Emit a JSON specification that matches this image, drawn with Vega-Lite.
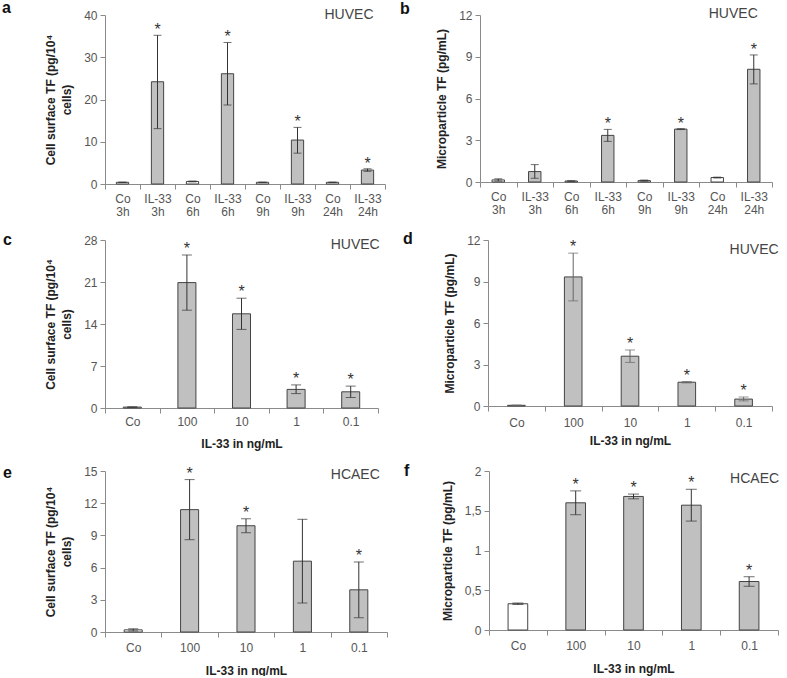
{
  "$schema": "https://vega.github.io/schema/vega-lite/v6.json",
  "background": "white",
  "padding": {"left": 2, "top": 0, "right": 0, "bottom": 0},
  "config": {
    "view": {"stroke": null},
    "font": "Liberation Sans",
    "axis": {
      "grid": false,
      "domainColor": "#8a8a8a",
      "tickColor": "#8a8a8a",
      "labelColor": "#555555",
      "labelFont": "Liberation Sans",
      "labelFontSize": 12,
      "titleFont": "Liberation Sans",
      "titleFontSize": 12,
      "titleFontWeight": "bold",
      "titleColor": "#222222",
      "tickSize": 5
    },
    "axisX": {"labelAngle": 0, "tickBand": "extent", "labelPadding": 4, "titlePadding": 8, "labelLineHeight": 13},
    "axisY": {"labelPadding": 3, "titlePadding": 10, "tickCount": 20, "format": "~g", "titleLineHeight": 16},
    "title": {"font": "Liberation Sans", "fontSize": 16, "fontWeight": "bold", "color": "#111111", "anchor": "start", "frame": "group"},
    "bar": {"stroke": "#444444", "strokeWidth": 1},
    "rule": {"color": "#333333", "strokeWidth": 1},
    "tick": {"color": "#333333", "thickness": 1},
    "text": {"font": "Liberation Sans"}
  },
  "datasets": {
    "a": [
      {"g": "Co 3h", "m": 0.4, "lo": 0.35, "hi": 0.45, "sig": false, "ctrl": true},
      {"g": "IL-33 3h", "m": 24.2, "lo": 13.1, "hi": 35.2, "sig": true, "ctrl": false},
      {"g": "Co 6h", "m": 0.6, "lo": 0.5, "hi": 0.7, "sig": false, "ctrl": true},
      {"g": "IL-33 6h", "m": 26.1, "lo": 18.7, "hi": 33.5, "sig": true, "ctrl": false},
      {"g": "Co 9h", "m": 0.4, "lo": 0.35, "hi": 0.45, "sig": false, "ctrl": true},
      {"g": "IL-33 9h", "m": 10.4, "lo": 7.3, "hi": 13.4, "sig": true, "ctrl": false},
      {"g": "Co 24h", "m": 0.4, "lo": 0.35, "hi": 0.45, "sig": false, "ctrl": true},
      {"g": "IL-33 24h", "m": 3.3, "lo": 3.0, "hi": 3.6, "sig": true, "ctrl": false}
    ],
    "b": [
      {"g": "Co 3h", "m": 0.15, "lo": 0.07, "hi": 0.23, "sig": false, "ctrl": true},
      {"g": "IL-33 3h", "m": 0.75, "lo": 0.27, "hi": 1.25, "sig": false, "ctrl": false},
      {"g": "Co 6h", "m": 0.07, "lo": 0.05, "hi": 0.09, "sig": false, "ctrl": true},
      {"g": "IL-33 6h", "m": 3.35, "lo": 2.92, "hi": 3.78, "sig": true, "ctrl": false},
      {"g": "Co 9h", "m": 0.1, "lo": 0.06, "hi": 0.14, "sig": false, "ctrl": true},
      {"g": "IL-33 9h", "m": 3.8, "lo": 3.77, "hi": 3.83, "sig": true, "ctrl": false},
      {"g": "Co 24h", "m": 0.32, "lo": 0.29, "hi": 0.35, "sig": false, "ctrl": true},
      {"g": "IL-33 24h", "m": 8.1, "lo": 7.05, "hi": 9.13, "sig": true, "ctrl": false}
    ],
    "c": [
      {"g": "Co", "m": 0.15, "lo": 0.1, "hi": 0.2, "sig": false, "ctrl": true},
      {"g": "100", "m": 20.9, "lo": 16.3, "hi": 25.5, "sig": true, "ctrl": false},
      {"g": "10", "m": 15.7, "lo": 13.1, "hi": 18.3, "sig": true, "ctrl": false},
      {"g": "1", "m": 3.1, "lo": 2.4, "hi": 3.85, "sig": true, "ctrl": false},
      {"g": "0.1", "m": 2.7, "lo": 1.75, "hi": 3.65, "sig": true, "ctrl": false}
    ],
    "d": [
      {"g": "Co", "m": 0.05, "lo": 0.03, "hi": 0.07, "sig": false, "ctrl": true},
      {"g": "100", "m": 9.33, "lo": 7.6, "hi": 11.05, "sig": true, "ctrl": false},
      {"g": "10", "m": 3.6, "lo": 3.15, "hi": 4.05, "sig": true, "ctrl": false},
      {"g": "1", "m": 1.72, "lo": 1.67, "hi": 1.77, "sig": true, "ctrl": false},
      {"g": "0.1", "m": 0.5, "lo": 0.37, "hi": 0.65, "sig": true, "ctrl": false}
    ],
    "e": [
      {"g": "Co", "m": 0.2, "lo": 0.1, "hi": 0.3, "sig": false, "ctrl": true},
      {"g": "100", "m": 11.4, "lo": 8.6, "hi": 14.2, "sig": true, "ctrl": false},
      {"g": "10", "m": 9.9, "lo": 9.25, "hi": 10.55, "sig": true, "ctrl": false},
      {"g": "1", "m": 6.6, "lo": 2.7, "hi": 10.5, "sig": false, "ctrl": false},
      {"g": "0.1", "m": 3.93, "lo": 1.33, "hi": 6.53, "sig": true, "ctrl": false}
    ],
    "f": [
      {"g": "Co", "m": 0.33, "lo": 0.32, "hi": 0.34, "sig": false, "ctrl": true},
      {"g": "100", "m": 1.6, "lo": 1.45, "hi": 1.75, "sig": true, "ctrl": false},
      {"g": "10", "m": 1.68, "lo": 1.65, "hi": 1.71, "sig": true, "ctrl": false},
      {"g": "1", "m": 1.57, "lo": 1.37, "hi": 1.77, "sig": true, "ctrl": false},
      {"g": "0.1", "m": 0.61, "lo": 0.55, "hi": 0.67, "sig": true, "ctrl": false}
    ]
  },
  "spacing": 14,
  "vconcat": [
    {
      "spacing": 95,
      "bounds": "flush",
      "hconcat": [
        {
          "width": 280, "height": 169,
          "title": {"text": "a", "dx": -103, "offset": -8},
          "data": {"name": "a"},
          "encoding": {
            "x": {"field": "g", "type": "nominal", "sort": null,
                  "scale": {"paddingInner": 0, "paddingOuter": 0},
                  "axis": {"title": null, "labelExpr": "split(datum.label, ' ')"}}
          },
          "layer": [
            {"mark": {"type": "bar", "width": {"band": 0.35}},
             "encoding": {
               "y": {"field": "m", "type": "quantitative", "scale": {"domain": [0, 40], "nice": false},
                     "axis": {"values": [0, 10, 20, 30, 40], "tickCount": 20, "format": "~g", "title": ["Cell surface TF (pg/10⁴", "cells)"], "titlePadding": 10}},
               "fill": {"condition": {"test": "datum.ctrl", "value": "white"}, "value": "#c0c0c0"}}},
            {"mark": "rule", "encoding": {"y": {"field": "lo", "type": "quantitative"}, "y2": {"field": "hi"}}},
            {"mark": {"type": "tick", "size": 8}, "encoding": {"y": {"field": "hi", "type": "quantitative"}}},
            {"mark": {"type": "tick", "size": 8}, "encoding": {"y": {"field": "lo", "type": "quantitative"}}},
            {"transform": [{"filter": "datum.sig"}],
             "mark": {"type": "text", "text": "*", "fontSize": 16, "color": "#333333", "baseline": "alphabetic", "dy": 0},
             "encoding": {"y": {"field": "hi", "type": "quantitative"}}},
            {"data": {"values": [{"label": "HUVEC"}]},
             "mark": {"type": "text", "align": "right", "baseline": "middle", "fontSize": 14, "color": "#444444", "dx": 6, "dy": 0},
             "encoding": {"x": {"datum": "IL-33 24h"}, "y": {"datum": 40}, "text": {"field": "label"}}}
          ]
        },
        {
          "width": 292, "height": 167,
          "title": {"text": "b", "dx": -80, "offset": -10},
          "data": {"name": "b"},
          "encoding": {
            "x": {"field": "g", "type": "nominal", "sort": null,
                  "scale": {"paddingInner": 0, "paddingOuter": 0},
                  "axis": {"title": null, "labelExpr": "split(datum.label, ' ')"}}
          },
          "layer": [
            {"mark": {"type": "bar", "width": {"band": 0.34}},
             "encoding": {
               "y": {"field": "m", "type": "quantitative", "scale": {"domain": [0, 12], "nice": false},
                     "axis": {"values": [0, 3, 6, 9, 12], "tickCount": 20, "format": "~g", "title": "Microparticle TF (pg/mL)"}},
               "fill": {"condition": {"test": "datum.ctrl", "value": "white"}, "value": "#c0c0c0"}}},
            {"mark": "rule", "encoding": {"y": {"field": "lo", "type": "quantitative"}, "y2": {"field": "hi"}}},
            {"mark": {"type": "tick", "size": 8}, "encoding": {"y": {"field": "hi", "type": "quantitative"}}},
            {"mark": {"type": "tick", "size": 8}, "encoding": {"y": {"field": "lo", "type": "quantitative"}}},
            {"transform": [{"filter": "datum.sig"}],
             "mark": {"type": "text", "text": "*", "fontSize": 16, "color": "#333333", "baseline": "alphabetic", "dy": 0},
             "encoding": {"y": {"field": "hi", "type": "quantitative"}}},
            {"data": {"values": [{"label": "HUVEC"}]},
             "mark": {"type": "text", "align": "right", "baseline": "middle", "fontSize": 14, "color": "#444444", "dx": 4, "dy": -1},
             "encoding": {"x": {"datum": "IL-33 24h"}, "y": {"datum": 12}, "text": {"field": "label"}}}
          ]
        }
      ]
    },
    {
      "spacing": 110,
      "bounds": "flush",
      "hconcat": [
        {
          "width": 273, "height": 168,
          "title": {"text": "c", "dx": -102, "offset": -14},
          "data": {"name": "c"},
          "encoding": {
            "x": {"field": "g", "type": "nominal", "sort": null,
                  "scale": {"paddingInner": 0, "paddingOuter": 0},
                  "axis": {"title": "IL-33 in ng/mL", "labelPadding": 3, "titlePadding": 11}}
          },
          "layer": [
            {"mark": {"type": "bar", "width": {"band": 0.33}},
             "encoding": {
               "y": {"field": "m", "type": "quantitative", "scale": {"domain": [0, 28], "nice": false},
                     "axis": {"values": [0, 7, 14, 21, 28], "tickCount": 20, "format": "~g", "title": ["Cell surface TF (pg/10⁴", "cells)"], "titlePadding": 10}},
               "fill": {"condition": {"test": "datum.ctrl", "value": "white"}, "value": "#c0c0c0"}}},
            {"mark": "rule", "encoding": {"y": {"field": "lo", "type": "quantitative"}, "y2": {"field": "hi"}}},
            {"mark": {"type": "tick", "size": 10}, "encoding": {"y": {"field": "hi", "type": "quantitative"}}},
            {"mark": {"type": "tick", "size": 10}, "encoding": {"y": {"field": "lo", "type": "quantitative"}}},
            {"transform": [{"filter": "datum.sig"}],
             "mark": {"type": "text", "text": "*", "fontSize": 16, "color": "#333333", "baseline": "alphabetic", "dy": -1},
             "encoding": {"y": {"field": "hi", "type": "quantitative"}}},
            {"data": {"values": [{"label": "HUVEC"}]},
             "mark": {"type": "text", "align": "right", "baseline": "middle", "fontSize": 14, "color": "#444444", "dx": 29, "dy": 5},
             "encoding": {"x": {"datum": "0.1"}, "y": {"datum": 28}, "text": {"field": "label"}}}
          ]
        },
        {
          "width": 284, "height": 166,
          "title": {"text": "d", "dx": -85, "offset": -13},
          "data": {"name": "d"},
          "encoding": {
            "x": {"field": "g", "type": "nominal", "sort": null,
                  "scale": {"paddingInner": 0, "paddingOuter": 0},
                  "axis": {"title": "IL-33 in ng/mL", "labelPadding": 6, "titlePadding": 7}}
          },
          "layer": [
            {"mark": {"type": "bar", "width": {"band": 0.31}},
             "encoding": {
               "y": {"field": "m", "type": "quantitative", "scale": {"domain": [0, 12], "nice": false},
                     "axis": {"values": [0, 3, 6, 9, 12], "tickCount": 20, "format": "~g", "title": "Microparticle TF (pg/mL)"}},
               "fill": {"condition": {"test": "datum.ctrl", "value": "white"}, "value": "#c0c0c0"}}},
            {"mark": {"type": "rule", "color": "#666666"}, "encoding": {"y": {"field": "lo", "type": "quantitative"}, "y2": {"field": "hi"}}},
            {"mark": {"type": "tick", "size": 10, "color": "#666666"}, "encoding": {"y": {"field": "hi", "type": "quantitative"}}},
            {"mark": {"type": "tick", "size": 10, "color": "#666666"}, "encoding": {"y": {"field": "lo", "type": "quantitative"}}},
            {"transform": [{"filter": "datum.sig"}],
             "mark": {"type": "text", "text": "*", "fontSize": 16, "color": "#333333", "baseline": "alphabetic", "dy": -1},
             "encoding": {"y": {"field": "hi", "type": "quantitative"}}},
            {"data": {"values": [{"label": "HUVEC"}]},
             "mark": {"type": "text", "align": "right", "baseline": "middle", "fontSize": 14, "color": "#444444", "dx": 35, "dy": 10},
             "encoding": {"x": {"datum": "0.1"}, "y": {"datum": 12}, "text": {"field": "label"}}}
          ]
        }
      ]
    },
    {
      "spacing": 102,
      "bounds": "flush",
      "hconcat": [
        {
          "width": 282, "height": 161,
          "title": {"text": "e", "dx": -102, "offset": -16},
          "data": {"name": "e"},
          "encoding": {
            "x": {"field": "g", "type": "nominal", "sort": null,
                  "scale": {"paddingInner": 0, "paddingOuter": 0},
                  "axis": {"title": "IL-33 in ng/mL", "labelPadding": 5, "titlePadding": 12}}
          },
          "layer": [
            {"mark": {"type": "bar", "width": {"band": 0.32}},
             "encoding": {
               "y": {"field": "m", "type": "quantitative", "scale": {"domain": [0, 15], "nice": false},
                     "axis": {"values": [0, 3, 6, 9, 12, 15], "tickCount": 20, "format": "~g", "title": ["Cell surface TF (pg/10⁴", "cells)"], "titlePadding": 10}},
               "fill": {"condition": {"test": "datum.ctrl", "value": "white"}, "value": "#c0c0c0"}}},
            {"mark": "rule", "encoding": {"y": {"field": "lo", "type": "quantitative"}, "y2": {"field": "hi"}}},
            {"mark": {"type": "tick", "size": 10}, "encoding": {"y": {"field": "hi", "type": "quantitative"}}},
            {"mark": {"type": "tick", "size": 10}, "encoding": {"y": {"field": "lo", "type": "quantitative"}}},
            {"transform": [{"filter": "datum.sig"}],
             "mark": {"type": "text", "text": "*", "fontSize": 16, "color": "#333333", "baseline": "alphabetic", "dy": -1},
             "encoding": {"y": {"field": "hi", "type": "quantitative"}}},
            {"data": {"values": [{"label": "HCAEC"}]},
             "mark": {"type": "text", "align": "right", "baseline": "middle", "fontSize": 14, "color": "#444444", "dx": 21, "dy": 4},
             "encoding": {"x": {"datum": "0.1"}, "y": {"datum": 15}, "text": {"field": "label"}}}
          ]
        },
        {
          "width": 289, "height": 159,
          "title": {"text": "f", "dx": -85, "offset": -14},
          "data": {"name": "f"},
          "encoding": {
            "x": {"field": "g", "type": "nominal", "sort": null,
                  "scale": {"paddingInner": 0, "paddingOuter": 0},
                  "axis": {"title": "IL-33 in ng/mL", "labelPadding": 5, "titlePadding": 12}}
          },
          "layer": [
            {"mark": {"type": "bar", "width": {"band": 0.34}},
             "encoding": {
               "y": {"field": "m", "type": "quantitative", "scale": {"domain": [0, 2], "nice": false},
                     "axis": {"values": [0, 0.5, 1, 1.5, 2], "tickCount": 20, "labelExpr": "replace(format(datum.value, '~g'), '.', ',')", "title": "Microparticle TF (pg/mL)"}},
               "fill": {"condition": {"test": "datum.ctrl", "value": "white"}, "value": "#c0c0c0"}}},
            {"mark": "rule", "encoding": {"y": {"field": "lo", "type": "quantitative"}, "y2": {"field": "hi"}}},
            {"mark": {"type": "tick", "size": 11}, "encoding": {"y": {"field": "hi", "type": "quantitative"}}},
            {"mark": {"type": "tick", "size": 11}, "encoding": {"y": {"field": "lo", "type": "quantitative"}}},
            {"transform": [{"filter": "datum.sig"}],
             "mark": {"type": "text", "text": "*", "fontSize": 16, "color": "#333333", "baseline": "alphabetic", "dy": -1},
             "encoding": {"y": {"field": "hi", "type": "quantitative"}}},
            {"data": {"values": [{"label": "HCAEC"}]},
             "mark": {"type": "text", "align": "right", "baseline": "middle", "fontSize": 14, "color": "#444444", "dx": 30, "dy": 8},
             "encoding": {"x": {"datum": "0.1"}, "y": {"datum": 2}, "text": {"field": "label"}}}
          ]
        }
      ]
    }
  ]
}
